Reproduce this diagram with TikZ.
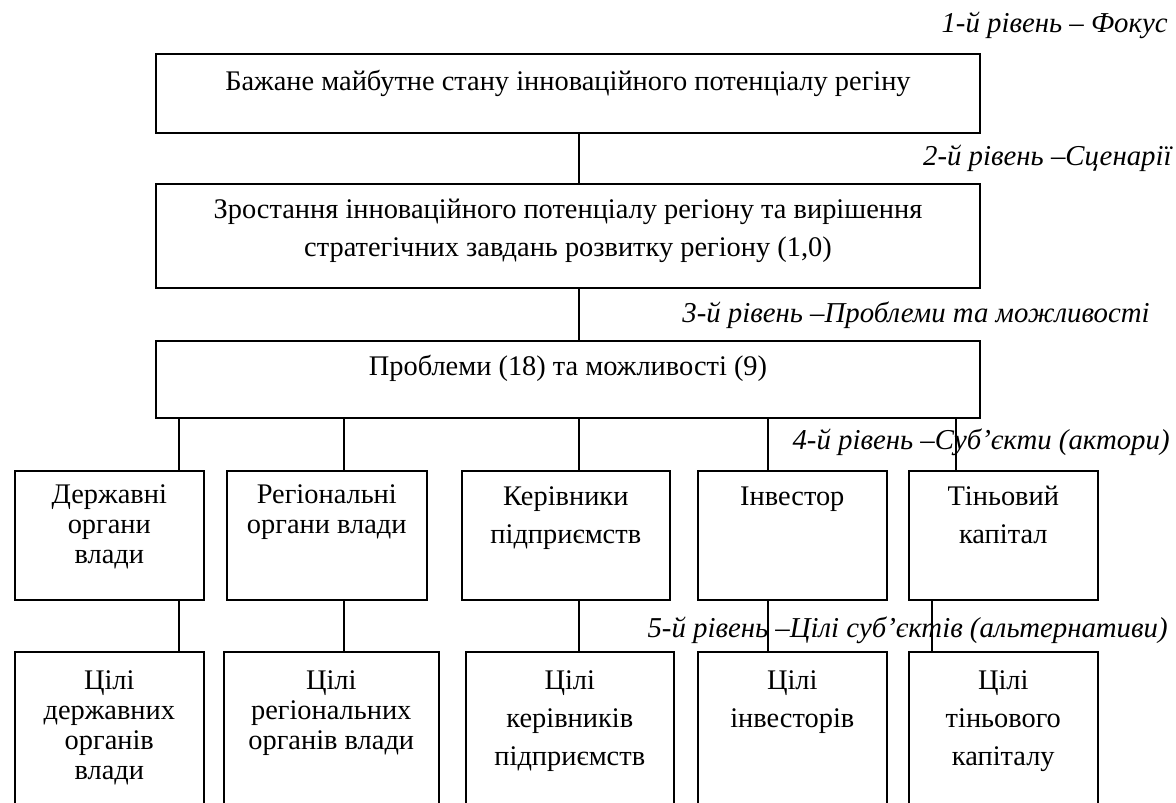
\documentclass[tikz,border=0pt]{standalone}
\usepackage{fontspec}
\setmainfont{Liberation Serif}
\usetikzlibrary{positioning}
\newcommand{\tstrut}{\rule{0pt}{12pt}}

\begin{document}
\begin{tikzpicture}[x=0.5pt, y=-0.5pt,
  box/.style={draw, line width=1pt, anchor=north west, inner sep=0pt},
  actbox/.style={draw, line width=0.8pt, anchor=north west, inner sep=0pt},
  boxtext/.style={anchor=north, align=center, inner sep=0pt, font=\fontsize{14.2}{15}\selectfont},
  widetext/.style={boxtext, font=\fontsize{14.2}{19}\selectfont},
  level/.style={anchor=east, inner sep=0pt, font=\fontsize{14.4}{15}\selectfont\itshape},
  link/.style={line width=1pt}]
  \useasboundingbox (0,0) rectangle (1176,802);
  \clip (0,0) rectangle (1176,802);
  % x positions of the connectors
  \path (579,0) coordinate (kM)
        (179,0) coordinate (kA) (344,0) coordinate (kB) (579,0) coordinate (kC)
        (768,0) coordinate (kD) (956,0) coordinate (kE) (932,0) coordinate (kEg);

  % level labels
  \node[level] (lev1) at (1168,25) {1-й рівень – Фокус};
  \node[level] (lev2) at (1172,158) {2-й рівень –Сценарії};
  \node[level] (lev3) at (1150,315) {3-й рівень –Проблеми та можливості};
  \node[level] (lev4) at (1170,442) {4-й рівень –Суб’єкти (актори)};
  \node[level] (lev5) at (1168,630) {5-й рівень –Цілі суб’єктів (альтернативи)};

  % upper levels
  \node[box, minimum width=412pt, minimum height=39.5pt] (focus) at (155,53) {};
  \node[boxtext, below=6.6pt of focus.north] (focus-t)
    {\tstrut Бажане майбутне стану інноваційного потенціалу регіну};
  \node[box, minimum width=412pt, minimum height=52pt] (scen) at (155,183) {};
  \node[widetext, below=5.6pt of scen.north] (scen-t)
    {\tstrut Зростання інноваційного потенціалу регіону та вирішення\\
     стратегічних завдань розвитку регіону (1,0)};
  \node[box, minimum width=412pt, minimum height=38.5pt] (prob) at (155,340) {};
  \node[boxtext, below=5.6pt of prob.north] (prob-t)
    {\tstrut Проблеми (18) та можливості (9)};
  \draw[link] (focus.south -| kM) -- (scen.north -| kM);
  \draw[link] (scen.south -| kM) -- (prob.north -| kM);

  % actors
  \foreach \nm/\xl/\bw/\st/\off/\txt in {
      actA/14/94.5/boxtext/4.6/{Державні\\органи\\влади},
      actB/226/100/boxtext/4.6/{Регіональні\\органи влади},
      actC/461/104/widetext/5.6/{Керівники\\підприємств},
      actD/697/94.5/widetext/5.6/{Інвестор},
      actE/908/94.5/widetext/5.6/{Тіньовий\\капітал}} {
    \node[actbox, minimum width=\bw pt, minimum height=64.5pt] (\nm) at (\xl,470) {};
    \node[\st, below=\off pt of \nm.north] (\nm-t) {\tstrut\txt};
  }

  % goals of the actors
  \foreach \nm/\xl/\bw/\st/\txt in {
      goalA/14/94.5/boxtext/{Цілі\\державних\\органів\\влади},
      goalB/223/107.5/boxtext/{Цілі\\регіональних\\органів влади},
      goalC/465/104/widetext/{Цілі\\керівників\\підприємств},
      goalD/697/94.5/widetext/{Цілі\\інвесторів},
      goalE/908/94.5/widetext/{Цілі\\тіньового\\капіталу}} {
    \node[actbox, minimum width=\bw pt, minimum height=89.5pt] (\nm) at (\xl,651) {};
    \node[\st, below=7pt of \nm.north] (\nm-t) {\tstrut\txt};
  }

  \foreach \a/\k in {actA/kA, actB/kB, actC/kC, actD/kD, actE/kE}
    \draw[link] (prob.south -| \k) -- (\a.north -| \k);
  \foreach \a/\g/\k in {actA/goalA/kA, actB/goalB/kB, actC/goalC/kC, actD/goalD/kD, actE/goalE/kEg}
    \draw[link] (\a.south -| \k) -- (\g.north -| \k);
\end{tikzpicture}
\end{document}
